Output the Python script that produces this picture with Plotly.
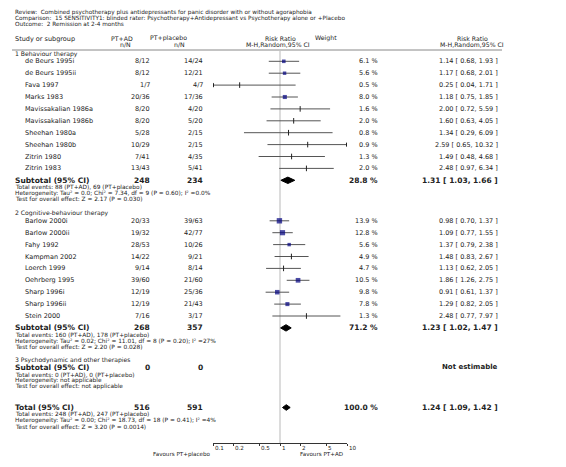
import math
import plotly.graph_objects as go

W, H = 566, 467

# ---------------- data ----------------
g1_names = ["de Beurs 1995i", "de Beurs 1995ii", "Fava 1997", "Marks 1983", "Mavissakalian 1986a",
            "Mavissakalian 1986b", "Sheehan 1980a", "Sheehan 1980b", "Zitrin 1980", "Zitrin 1983"]
g1_ad = ["8/12", "8/12", "1/7", "20/36", "8/20", "8/20", "5/28", "10/29", "7/41", "13/43"]
g1_pl = ["14/24", "12/21", "4/7", "17/36", "4/20", "5/20", "2/15", "2/15", "4/35", "5/41"]
g1_w = [6.1, 5.6, 0.5, 8.0, 1.6, 2.0, 0.8, 0.9, 1.3, 2.0]
g1_rr = [1.14, 1.17, 0.25, 1.18, 2.00, 1.60, 1.34, 2.59, 1.49, 2.48]
g1_lo = [0.68, 0.68, 0.04, 0.75, 0.72, 0.63, 0.29, 0.65, 0.48, 0.97]
g1_hi = [1.93, 2.01, 1.71, 1.85, 5.59, 4.05, 6.09, 10.32, 4.68, 6.34]

g2_names = ["Barlow 2000i", "Barlow 2000ii", "Fahy 1992", "Kampman 2002", "Loerch 1999",
            "Oehrberg 1995", "Sharp 1996i", "Sharp 1996ii", "Stein 2000"]
g2_ad = ["20/33", "19/32", "28/53", "14/22", "9/14", "39/60", "12/19", "12/19", "7/16"]
g2_pl = ["39/63", "42/77", "10/26", "9/21", "8/14", "21/60", "25/36", "21/43", "3/17"]
g2_w = [13.9, 12.8, 5.6, 4.9, 4.7, 10.5, 9.8, 7.8, 1.3]
g2_rr = [0.98, 1.09, 1.37, 1.48, 1.13, 1.86, 0.91, 1.29, 2.48]
g2_lo = [0.70, 0.77, 0.79, 0.83, 0.62, 1.26, 0.61, 0.82, 0.77]
g2_hi = [1.37, 1.55, 2.38, 2.67, 2.05, 2.75, 1.37, 2.05, 7.97]

sub_n_ad = ["248", "268", "0"]
sub_n_pl = ["234", "357", "0"]
sub_w = ["28.8 %", "71.2 %", ""]
sub_rr = [1.31, 1.23, None]
sub_lo = [1.03, 1.02, None]
sub_hi = [1.66, 1.47, None]
sub_details = [
    ["Total events: 88 (PT+AD), 69 (PT+placebo)",
     "Heterogeneity: Tau² = 0.0; Chi² = 7.34, df = 9 (P = 0.60); I² =0.0%",
     "Test for overall effect: Z = 2.17 (P = 0.030)"],
    ["Total events: 160 (PT+AD), 178 (PT+placebo)",
     "Heterogeneity: Tau² = 0.02; Chi² = 11.01, df = 8 (P = 0.20); I² =27%",
     "Test for overall effect: Z = 2.20 (P = 0.028)"],
    ["Total events: 0 (PT+AD), 0 (PT+placebo)",
     "Heterogeneity: not applicable",
     "Test for overall effect: not applicable"],
]
group_titles = ["1 Behaviour therapy", "2 Cognitive-behaviour therapy", "3 Psychodynamic and other therapies"]

tot_n_ad, tot_n_pl, tot_w = "516", "591", "100.0 %"
tot_rr, tot_lo, tot_hi = 1.24, 1.09, 1.42
tot_details = ["Total events: 248 (PT+AD), 247 (PT+placebo)",
               "Heterogeneity: Tau² = 0.00; Chi² = 18.73, df = 18 (P = 0.41); I² =4%",
               "Test for overall effect: Z = 3.20 (P = 0.0014)"]

tick_vals = [0.1, 0.2, 0.5, 1, 2, 5, 10]
tick_text = ["0.1", "0.2", "0.5", "1", "2", "5", "10"]

header_lines = ["Review:  Combined psychotherapy plus antidepressants for panic disorder with or without agoraphobia",
                "Comparison:  15 SENSITIVITY1: blinded rater: Psychotherapy+Antidepressant vs Psychotherapy alone or +Placebo",
                "Outcome:  2 Remission at 2-4 months"]

# ---------------- layout constants ----------------
FONT = "DejaVu Sans"
TXT = "#222222"
X_NAME0, X_NAME1 = 13, 23
X_AD, X_PL, X_W, X_RR = 152, 205, 380, 500
PLOT_L, PLOT_R = 213, 347
AXIS_Y = 443
STEP = 11.9
BLUE = "#00007f"
CI_COL = "#555555"
FS = 6.5      # study rows
FS_G = 6.1    # group headings
FS_B = 7.5    # bold summary rows
FS_D = 5.85   # detail lines

fig = go.Figure()
ann = []


def txt(x, y, s, size=FS, anchor="left", bold=False, color=TXT):
    ann.append(dict(x=x / W, y=y, xref="paper", yref="y", text=("<b>%s</b>" % s) if bold else s,
                    showarrow=False, xanchor=anchor, yanchor="middle",
                    font=dict(family=FONT, size=size, color=color)))


def fmt_rr(r, l, h):
    return "%.2f [ %.2f, %.2f ]" % (r, l, h)


# title lines
for i, s in enumerate(header_lines):
    txt(X_NAME0, 12 + i * 6, s, size=5.75)

# column headers
txt(X_NAME0, 38.5, "Study or subgroup", FS)
txt(135, 38, "PT+AD", 6.2, "right")
txt(133, 44.5, "n/N", 6.2, "right")
txt(189, 38, "PT+placebo", 6.2, "right")
txt(187, 44.5, "n/N", 6.2, "right")
txt(280, 38, "Risk Ratio", 6.2, "center")
txt(278, 44.5, "M-H,Random,95% CI", 6.2, "center")
txt(326, 38, "Weight", 6.2, "center")
txt(472, 38, "Risk Ratio", 6.2, "center")
txt(472, 44.5, "M-H,Random,95% CI", 6.2, "center")

shapes = [dict(type="line", xref="paper", yref="y", x0=12 / W, x1=502 / W, y0=50, y1=50,
               line=dict(color="#888888", width=1))]

# vertical line of no effect
fig.add_trace(go.Scatter(x=[1, 1], y=[51, AXIS_Y], mode="lines",
                         line=dict(color="#dcdcdc", width=2), hoverinfo="skip", showlegend=False))

groups = [
    (g1_names, g1_ad, g1_pl, g1_w, g1_rr, g1_lo, g1_hi),
    (g2_names, g2_ad, g2_pl, g2_w, g2_rr, g2_lo, g2_hi),
    ([], [], [], [], [], [], []),
]
group_start = [53.8, 213.3, 359.6]

sq_x, sq_y, sq_s = [], [], []
tk_x, tk_y = [], []
ci_x, ci_y = [], []
arr_l, arr_r = [], []


def diamond(r, l, h, yc, hh=3.2):
    fig.add_trace(go.Scatter(x=[l, r, h, r, l], y=[yc, yc - hh, yc, yc + hh, yc], mode="lines",
                             fill="toself", fillcolor="black", line=dict(color="black", width=1),
                             hoverinfo="skip", showlegend=False))


for gi, (names, ad, pl, w, rr, lo, hi) in enumerate(groups):
    y0 = group_start[gi]
    txt(X_NAME0, y0, group_titles[gi], FS_G)
    if names:
        ys = y0 + 7.5
        for i, nm in enumerate(names):
            y = ys + i * STEP
            txt(X_NAME1, y, nm, FS)
            txt(X_AD, y, ad[i], FS, "right")
            txt(X_PL, y, pl[i], FS, "right")
            txt(X_W, y, "%.1f %%" % w[i], FS, "right")
            txt(X_RR, y, fmt_rr(rr[i], lo[i], hi[i]), FS, "right")
            l = max(lo[i], 0.1)
            h = min(hi[i], 10)
            ci_x += [l, h, None]
            ci_y += [y, y, None]
            if lo[i] < 0.1:
                arr_l.append(y)
            if hi[i] > 10:
                arr_r.append(y)
            if w[i] >= 5:
                sq_x.append(rr[i]); sq_y.append(y); sq_s.append(1.45 * w[i] ** 0.5)
            else:
                tk_x.append(rr[i]); tk_y.append(y)
        ysub = ys + len(names) * STEP
    else:
        ysub = y0 + 7.8
    txt(X_NAME0, ysub, "Subtotal (95% CI)", FS_B, bold=True)
    txt(X_AD, ysub, sub_n_ad[gi], FS_B, "right", bold=True)
    txt(X_PL, ysub, sub_n_pl[gi], FS_B, "right", bold=True)
    if sub_rr[gi] is not None:
        txt(X_W, ysub, sub_w[gi], FS_B, "right", bold=True)
        txt(X_RR, ysub, fmt_rr(sub_rr[gi], sub_lo[gi], sub_hi[gi]), FS_B, "right", bold=True)
        diamond(sub_rr[gi], sub_lo[gi], sub_hi[gi], ysub)
    else:
        txt(X_RR, ysub, "Not estimable", 7.0, "right", bold=True)
    for k, s in enumerate(sub_details[gi]):
        txt(X_NAME0, ysub + 7.6 + k * 5.6, s, FS_D)

# overall total
ytot = 407.5
txt(X_NAME0, ytot, "Total (95% CI)", FS_B, bold=True)
txt(X_AD, ytot, tot_n_ad, FS_B, "right", bold=True)
txt(X_PL, ytot, tot_n_pl, FS_B, "right", bold=True)
txt(X_W, ytot, tot_w, FS_B, "right", bold=True)
txt(X_RR, ytot, fmt_rr(tot_rr, tot_lo, tot_hi), FS_B, "right", bold=True)
diamond(tot_rr, tot_lo, tot_hi, ytot, hh=2.8)
for k, s in enumerate(tot_details):
    txt(X_NAME0, ytot + 7.2 + k * 6, s, FS_D)

# CI lines
fig.add_trace(go.Scatter(x=ci_x, y=ci_y, mode="lines", line=dict(color=CI_COL, width=1),
                         hoverinfo="skip", showlegend=False))
# small-weight ticks
fig.add_trace(go.Scatter(x=tk_x, y=tk_y, mode="markers",
                         marker=dict(symbol="line-ns", size=4, line=dict(color="#222222", width=1)),
                         hoverinfo="skip", showlegend=False))
# weighted squares
fig.add_trace(go.Scatter(x=sq_x, y=sq_y, mode="markers",
                         marker=dict(symbol="square", size=sq_s, color=BLUE, line=dict(width=0)),
                         hoverinfo="skip", showlegend=False))
# clipped arrows
fig.add_trace(go.Scatter(x=[0.1] * len(arr_l), y=arr_l, mode="markers",
                         marker=dict(symbol="triangle-left", size=4, color="#222222"),
                         hoverinfo="skip", showlegend=False))
fig.add_trace(go.Scatter(x=[10] * len(arr_r), y=arr_r, mode="markers",
                         marker=dict(symbol="triangle-right", size=4, color="#222222"),
                         hoverinfo="skip", showlegend=False))

# tick labels (left-aligned at tick, as in the reference)
for v, t in zip(tick_vals, tick_text):
    ann.append(dict(x=math.log10(v), y=447.8, xref="x", yref="y", text=t, showarrow=False,
                    xanchor="left", yanchor="middle", xshift=-0.5,
                    font=dict(family=FONT, size=5.6, color=TXT)))

# favours labels
txt(212, 454.3, "Favours PT+placebo", 5.6, "right")
txt(298, 454.3, "Favours PT+AD", 5.6, "left")

fig.update_layout(
    width=W, height=H, margin=dict(l=0, r=0, t=0, b=0),
    paper_bgcolor="white", plot_bgcolor="rgba(0,0,0,0)",
    showlegend=False, annotations=ann, shapes=shapes,
    xaxis=dict(type="log", range=[-1, 1], domain=[PLOT_L / W, PLOT_R / W],
               anchor="free", position=1 - AXIS_Y / H,
               showgrid=False, zeroline=False, showline=True, linecolor="#333333", linewidth=1,
               ticks="outside", ticklen=2, tickcolor="#333333", tickwidth=1,
               tickvals=tick_vals, showticklabels=False),
    yaxis=dict(range=[H, 0], domain=[0, 1], visible=False, showgrid=False, zeroline=False),
)

fig.write_html("out.html", config={"displayModeBar": False, "staticPlot": True},
               post_script="document.body.style.margin='0';")
